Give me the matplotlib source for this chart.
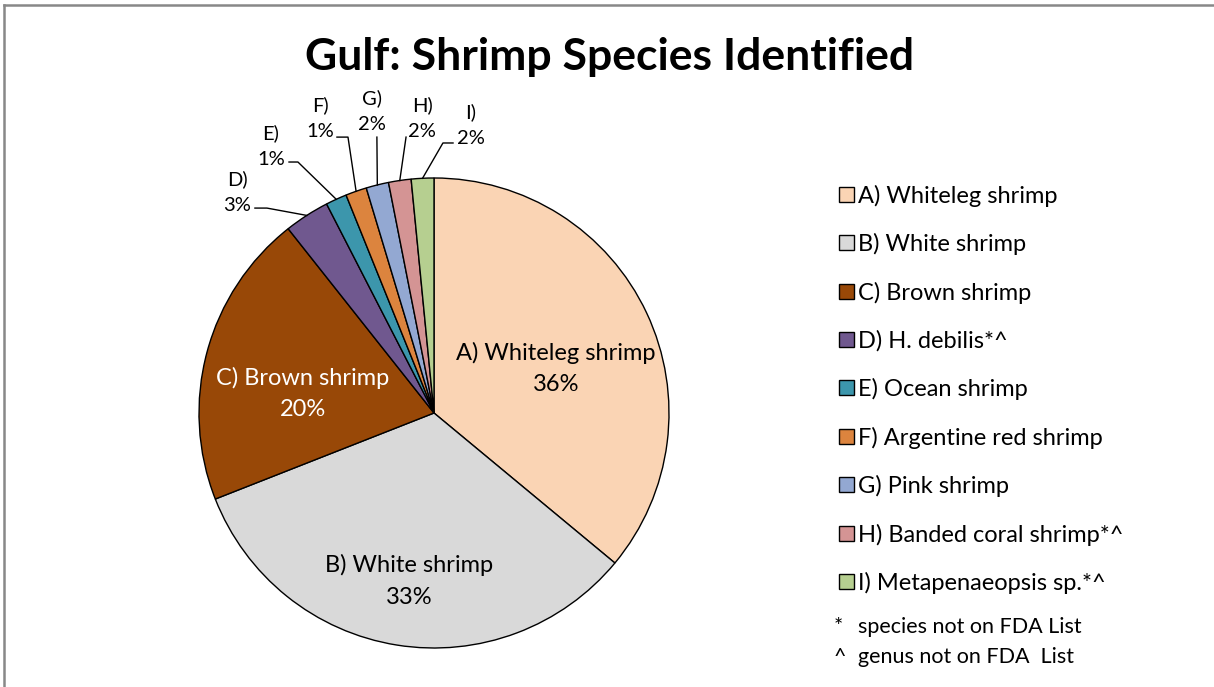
import numpy as np
import matplotlib.pyplot as plt
from matplotlib.lines import Line2D

plt.rcParams['font.family'] = ['Lato', 'DejaVu Sans']

# share of shrimp samples per species (percent)
letters = ['A', 'B', 'C', 'D', 'E', 'F', 'G', 'H', 'I']
species = ['Whiteleg shrimp', 'White shrimp', 'Brown shrimp', 'H. debilis*^',
           'Ocean shrimp', 'Argentine red shrimp', 'Pink shrimp',
           'Banded coral shrimp*^', 'Metapenaeopsis sp.*^']
shares = [36.0, 33.0, 20.3, 3.1, 1.45, 1.45, 1.55, 1.55, 1.55]
colors = ['#FAD4B4', '#D9D9D9', '#984807', '#70588F', '#3C96AC',
          '#DC843E', '#93A8D2', '#D49494', '#B6CF90']

W, H = 1214, 687
fig = plt.figure(figsize=(W / 100, H / 100), dpi=100)

# pie axes, square in pixels
cx, cy, r = 434, 413, 235
ax = fig.add_axes([(cx - r) / W, (H - cy - r) / H, 2 * r / W, 2 * r / H])

wedges, _ = ax.pie(shares, colors=colors, startangle=90, counterclock=False,
                   radius=1, wedgeprops=dict(edgecolor='black', linewidth=1.0))
ax.set_xlim(-1, 1)
ax.set_ylim(-1, 1)
ax.axis('off')

total = sum(shares)
pct = [int(s / total * 100 + 0.5) for s in shares]

# labels inside the three big slices
inside = {0: (0.52, 0.19, 'black'), 1: (-0.106, -0.715, 'black'), 2: (-0.557, 0.083, 'white')}
for i, (x, y, c) in inside.items():
    ax.text(x, y, '%s) %s\n%d%%' % (letters[i], species[i], pct[i]), ha='center', va='center',
            fontsize=17, color=c, linespacing=1.62)

# outside labels for the small slices: text centre, line start, elbow
outside = {
    3: ((-0.838, 0.94), (-0.762, 0.872), (-0.711, 0.872)),
    4: ((-0.694, 1.136), (-0.617, 1.068), (-0.579, 1.068)),
    5: ((-0.485, 1.255), (-0.413, 1.174), (-0.366, 1.174)),
    6: ((-0.264, 1.285), (-0.243, 1.174), (-0.243, 1.174)),
    7: ((-0.051, 1.255), (-0.119, 1.174), (-0.119, 1.174)),
    8: ((0.157, 1.226), (0.081, 1.149), (0.038, 1.149)),
}
for i, (tpos, p0, p1) in outside.items():
    w = wedges[i]
    mid = np.deg2rad((w.theta1 + w.theta2) / 2)
    edge = (np.cos(mid), np.sin(mid))
    ax.add_line(Line2D([p0[0], p1[0], edge[0]], [p0[1], p1[1], edge[1]],
                       color='black', linewidth=1.0, clip_on=False))
    ax.text(tpos[0], tpos[1], '%s)\n%d%%' % (letters[i], pct[i]), ha='center', va='center',
            fontsize=14.5, linespacing=1.6, clip_on=False)

fig.text(610 / W, 1 - 57 / H, 'Gulf: Shrimp Species Identified', ha='center', va='center',
         fontsize=32, fontweight='bold')

leg = fig.legend(wedges, ['%s) %s' % (l, s) for l, s in zip(letters, species)],
                 loc='upper left', bbox_to_anchor=(830 / W, 1 - 175 / H), frameon=False,
                 fontsize=17, handlelength=0.6, handleheight=0.6, handletextpad=0.18,
                 labelspacing=1.12, borderaxespad=0)
for h in leg.legend_handles:
    h.set_linewidth(1.0)

fig.text(834 / W, 1 - 627 / H, '*', ha='left', va='center', fontsize=15.5)
fig.text(858 / W, 1 - 627 / H, 'species not on FDA List', ha='left', va='center', fontsize=15.5)
fig.text(834 / W, 1 - 657 / H, '^', ha='left', va='center', fontsize=15.5)
fig.text(858 / W, 1 - 657 / H, 'genus not on FDA  List', ha='left', va='center', fontsize=15.5)

# grey frame on top and left
fig.add_artist(Line2D([4 / W, 4 / W], [0, 1 - 5 / H], color='#888888', linewidth=1.8))
fig.add_artist(Line2D([4 / W, 1], [1 - 5 / H, 1 - 5 / H], color='#888888', linewidth=1.8))

fig.savefig('out.png', dpi=100)
